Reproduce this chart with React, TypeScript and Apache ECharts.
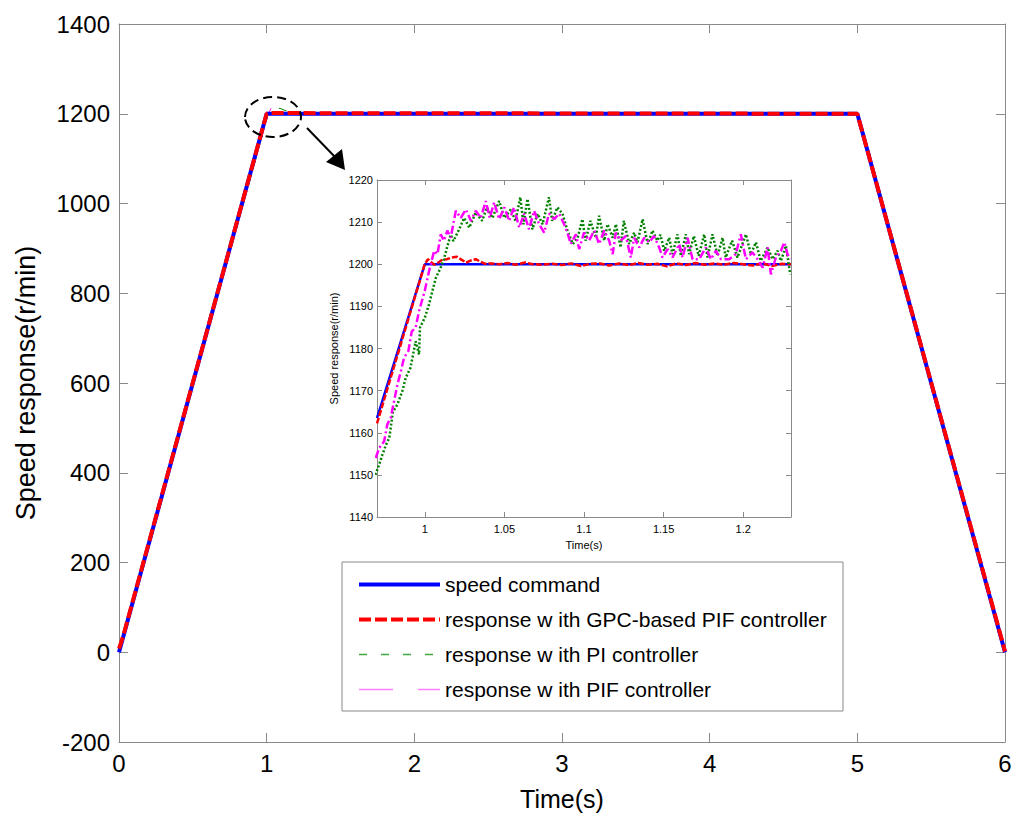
import React, { useEffect, useRef } from "react";
import * as echarts from "echarts";

const FONT = "'Liberation Sans', Arial, Helvetica, sans-serif";
const AXIS_GRAY = "#8a8a8a";

const legendNames = [
  "speed command",
  "response w ith GPC-based PIF controller",
  "response w ith PI controller",
  "response w ith PIF controller",
];

// main plot: time (s) vs speed (r/min)
const mainCommand = [[0, 0], [1, 1200], [5, 1200], [6, 0]];
const mainGpc = [[0, 8], [0.03, 38], [1, 1200], [1.02, 1201.5], [5, 1200], [6, 2]];
const mainPI = [[0, 0], [1.01, 1199], [1.04, 1212], [1.09, 1212], [1.15, 1204], [1.3, 1201], [5, 1200], [5.05, 1152], [6, 0]];
const mainPIF = [[0, 0], [1.005, 1197], [1.03, 1212], [1.085, 1211], [1.15, 1203], [1.3, 1201], [5, 1200], [5.05, 1150], [6, 0]];

// inset zoom
const insetXRange = [0.97, 1.23];
const insetYRange = [1140, 1220];
const insetXTicks = [1, 1.05, 1.1, 1.15, 1.2];

const insetCommand = [[0.97, 1163.5], [1.0, 1200], [1.23, 1200]];
const insetGpc = [
  [0.97, 1162.2], [1.0, 1200], [1.002, 1201.2], [1.004, 1200.5], [1.006, 1199.9], [1.008, 1200.3],
  [1.011, 1201.1], [1.014, 1201.2], [1.017, 1201.6], [1.02, 1201.8], [1.023, 1201.1], [1.026, 1200.4],
  [1.029, 1200.9], [1.032, 1201.2], [1.035, 1200.6], [1.038, 1200.1], [1.042, 1200.2], [1.047, 1200],
  [1.052, 1200.3], [1.057, 1199.9], [1.063, 1200.4], [1.068, 1200], [1.074, 1199.9], [1.08, 1200.1],
  [1.086, 1199.8], [1.092, 1200.2], [1.098, 1199.6], [1.104, 1200.1], [1.11, 1200.2], [1.116, 1199.7],
  [1.122, 1200.2], [1.128, 1199.8], [1.134, 1200.3], [1.14, 1199.9], [1.146, 1200.1], [1.152, 1199.5],
  [1.158, 1200.2], [1.164, 1199.8], [1.17, 1200.3], [1.176, 1199.9], [1.182, 1200.2], [1.188, 1199.9],
  [1.194, 1200.3], [1.2, 1200], [1.206, 1199.7], [1.212, 1200.2], [1.218, 1199.6], [1.224, 1200.1], [1.23, 1200],
];
const insetPI = [
  [0.969, 1150], [0.9713, 1152.4], [0.9734, 1154.8], [0.9755, 1157], [0.9776, 1158.7], [0.978, 1159.5],
  [0.98, 1165], [0.9828, 1166.7], [0.986, 1170], [0.988, 1173], [0.991, 1175.4], [0.9943, 1181.7],
  [0.9964, 1178.6], [0.997, 1185], [1.0, 1187.3], [1.0027, 1190.5], [1.0048, 1193.7], [1.007, 1196.8],
  [1.01, 1199.2], [1.012, 1201.2], [1.014, 1204], [1.0163, 1207], [1.018, 1205.5], [1.0216, 1208.3],
  [1.0247, 1211], [1.028, 1208.7], [1.032, 1212.3], [1.036, 1210.3], [1.039, 1213.5], [1.0425, 1211],
  [1.0467, 1215], [1.05, 1211], [1.054, 1213], [1.057, 1210.3], [1.06, 1215.9], [1.062, 1209.5],
  [1.0645, 1215.5], [1.0676, 1208.3], [1.0708, 1212], [1.074, 1209.5], [1.078, 1215.9], [1.08, 1210.3],
  [1.0833, 1213.5], [1.0865, 1212], [1.0896, 1208], [1.093, 1204.8], [1.096, 1206.3], [1.099, 1210.7],
  [1.101, 1205.6], [1.104, 1210.3], [1.1074, 1206.3], [1.1095, 1211.5], [1.1127, 1205.6], [1.1148, 1209.5],
  [1.118, 1206.3], [1.12, 1209.5], [1.123, 1204], [1.125, 1210.3], [1.1284, 1204.8], [1.1315, 1207.5],
  [1.1336, 1205.2], [1.1368, 1210.7], [1.14, 1204.8], [1.143, 1208], [1.146, 1205.6], [1.148, 1207],
  [1.1504, 1203.2], [1.1535, 1206.3], [1.1556, 1202.4], [1.1587, 1207.1], [1.1608, 1202], [1.164, 1207.1],
  [1.166, 1202.4], [1.169, 1206.7], [1.172, 1202], [1.1755, 1207.1], [1.1776, 1201.6], [1.1807, 1207.1],
  [1.1839, 1202], [1.187, 1206.3], [1.189, 1201.6], [1.193, 1205.6], [1.1964, 1201.6], [1.2017, 1207.1],
  [1.2048, 1202.4], [1.208, 1205.2], [1.211, 1200.8], [1.2153, 1204], [1.2184, 1201.2], [1.2216, 1203.2],
  [1.2237, 1200.8], [1.2268, 1204.4], [1.2295, 1197.6],
];
const insetPIF = [
  [0.9692, 1154], [0.9713, 1156.3], [0.9745, 1158], [0.9765, 1162], [0.9786, 1163.5], [0.9807, 1167.5],
  [0.9828, 1171.4], [0.985, 1174.6], [0.987, 1177.8], [0.9897, 1179.4], [0.9918, 1184], [0.9943, 1185],
  [0.9964, 1188.9], [1.0, 1193.7], [1.0027, 1198.4], [1.0059, 1203.2], [1.008, 1202.4], [1.01, 1207.1],
  [1.012, 1205.6], [1.0142, 1208], [1.0163, 1206.3], [1.0195, 1212.7], [1.0226, 1211], [1.0258, 1213],
  [1.029, 1210.3], [1.032, 1212.7], [1.0352, 1211], [1.0383, 1215], [1.0408, 1211], [1.0436, 1214.7],
  [1.0467, 1210.7], [1.05, 1213.5], [1.053, 1210.3], [1.056, 1213.5], [1.0593, 1208.7], [1.0624, 1212],
  [1.0655, 1208.3], [1.0687, 1212.7], [1.0718, 1209.5], [1.075, 1207.5], [1.078, 1212], [1.0813, 1210.7],
  [1.0844, 1212], [1.0875, 1209.5], [1.0896, 1207.5], [1.0917, 1204.8], [1.0949, 1207.1], [1.097, 1203.6],
  [1.1, 1207.5], [1.1032, 1205.6], [1.1064, 1208], [1.1095, 1204.8], [1.1127, 1208], [1.1158, 1205.6],
  [1.118, 1202.4], [1.12, 1207.5], [1.123, 1205.6], [1.1263, 1206.7], [1.1294, 1201.6], [1.1315, 1206.3],
  [1.1347, 1204], [1.1378, 1206.3], [1.141, 1205.2], [1.144, 1206.7], [1.1472, 1204], [1.1493, 1201.6],
  [1.1525, 1203.6], [1.1556, 1201.6], [1.1598, 1204.8], [1.1619, 1201.6], [1.165, 1206.3], [1.1682, 1201.2],
  [1.1724, 1201.2], [1.1765, 1204], [1.1797, 1201.2], [1.1828, 1203.2], [1.186, 1201.2], [1.1912, 1201.2],
  [1.1953, 1202.4], [1.1985, 1207.1], [1.2017, 1201.2], [1.2058, 1202.8], [1.209, 1201.2], [1.2122, 1199.2],
  [1.2153, 1204], [1.2174, 1197.6], [1.2205, 1201.6], [1.2237, 1203.2], [1.2258, 1205.2], [1.2278, 1202.4],
  [1.2295, 1201.2],
];

const BLUE = "#0000ff";
const RED = "#ff0000";
const GREEN = "#008000";
const MAGENTA = "#ff00ff";

const plain = (v: number) => String(v);

function boxAxis(extra: any) {
  return {
    type: "value",
    axisLine: { show: true, onZero: false, lineStyle: { color: AXIS_GRAY, width: 1 } },
    splitLine: { show: false },
    ...extra,
  };
}

export default function App() {
  const ref = useRef<HTMLDivElement>(null);
  useEffect(() => {
    if (!ref.current) return;
    const chart = echarts.init(ref.current, undefined, { renderer: "svg" });
    const mainTick = { inside: true, length: 9, lineStyle: { color: AXIS_GRAY } };
    const insetTick = { inside: true, length: 5, lineStyle: { color: AXIS_GRAY }, customValues: insetXTicks };
    const insetYTick = { inside: true, length: 5, lineStyle: { color: AXIS_GRAY } };
    const hiddenSymbol = { opacity: 0, color: "transparent", borderWidth: 0 };
    const option: any = {
      animation: false,
      backgroundColor: "#ffffff",
      textStyle: { fontFamily: FONT },
      grid: [
        { left: 119, top: 24, right: 19, bottom: 85 },
        { left: 377, top: 180, width: 414, height: 337, show: true, backgroundColor: "#ffffff", borderWidth: 0 },
      ],
      xAxis: [
        boxAxis({
          gridIndex: 0, min: 0, max: 6, interval: 1, position: "bottom",
          axisTick: mainTick,
          axisLabel: { color: "#000", fontSize: 24, margin: 9, fontFamily: FONT, formatter: plain },
          name: "Time(s)", nameLocation: "middle", nameGap: 44,
          nameTextStyle: { color: "#000", fontSize: 25, fontFamily: FONT },
        }),
        boxAxis({
          gridIndex: 0, min: 0, max: 6, interval: 1, position: "top",
          axisTick: mainTick, axisLabel: { show: false },
        }),
        boxAxis({
          gridIndex: 1, min: insetXRange[0], max: insetXRange[1], position: "bottom",
          axisTick: insetTick,
          axisLabel: { color: "#000", fontSize: 11, margin: 6, fontFamily: FONT, customValues: insetXTicks, formatter: plain },
          name: "Time(s)", nameLocation: "middle", nameGap: 22,
          nameTextStyle: { color: "#000", fontSize: 11, fontFamily: FONT },
        }),
        boxAxis({
          gridIndex: 1, min: insetXRange[0], max: insetXRange[1], position: "top",
          axisTick: insetTick, axisLabel: { show: false },
        }),
      ],
      yAxis: [
        boxAxis({
          gridIndex: 0, min: -200, max: 1400, interval: 200, position: "left",
          axisTick: mainTick,
          axisLabel: { color: "#000", fontSize: 24, margin: 9, fontFamily: FONT, formatter: plain },
          name: "Speed response(r/min)", nameLocation: "middle", nameGap: 80,
          nameTextStyle: { color: "#000", fontSize: 27, fontFamily: FONT },
        }),
        boxAxis({
          gridIndex: 0, min: -200, max: 1400, interval: 200, position: "right",
          axisTick: mainTick, axisLabel: { show: false },
        }),
        boxAxis({
          gridIndex: 1, min: insetYRange[0], max: insetYRange[1], interval: 10, position: "left",
          axisTick: insetYTick,
          axisLabel: { color: "#000", fontSize: 11, margin: 4, fontFamily: FONT, formatter: plain },
          name: "Speed response(r/min)", nameLocation: "middle", nameGap: 38,
          nameTextStyle: { color: "#000", fontSize: 11, fontFamily: FONT },
        }),
        boxAxis({
          gridIndex: 1, min: insetYRange[0], max: insetYRange[1], interval: 10, position: "right",
          axisTick: insetYTick, axisLabel: { show: false },
        }),
      ],
      legend: {
        orient: "vertical",
        left: 357,
        top: 574,
        padding: 0,
        itemWidth: 81,
        itemHeight: 20,
        itemGap: 14,
        itemTextGap: 9,
        selectedMode: false,
        itemStyle: hiddenSymbol,
        textStyle: { color: "#000", fontSize: 21, fontFamily: FONT, lineHeight: 20 },
        data: [
          { name: legendNames[0], itemStyle: hiddenSymbol, lineStyle: { color: BLUE, width: 4, type: "solid" } },
          { name: legendNames[1], itemStyle: hiddenSymbol, lineStyle: { color: RED, width: 4, type: [12, 4] } },
          { name: legendNames[2], itemStyle: hiddenSymbol, lineStyle: { color: "#40a840", width: 1.5, type: [8, 14] } },
          { name: legendNames[3], itemStyle: hiddenSymbol, lineStyle: { color: "#ff7fff", width: 1.5, type: [34, 25] } },
        ],
      },
      graphic: [
        {
          type: "rect", z: 0,
          shape: { x: 342, y: 562, width: 501, height: 149 },
          style: { fill: "#ffffff", stroke: "#888888", lineWidth: 1 },
        },
        {
          type: "ellipse", z: 10,
          shape: { cx: 273, cy: 117, rx: 28, ry: 20 },
          style: { fill: "transparent", stroke: "#000", lineWidth: 2, lineDash: [9, 5] },
        },
        {
          type: "line", z: 10,
          shape: { x1: 307, y1: 128, x2: 335, y2: 157 },
          style: { stroke: "#000", lineWidth: 2 },
        },
        {
          type: "polygon", z: 10,
          shape: { points: [[345, 170], [326, 162], [342, 149]] },
          style: { fill: "#000" },
        },
      ],
      series: [
        {
          name: legendNames[2], type: "line", xAxisIndex: 0, yAxisIndex: 0, z: 1,
          data: mainPI, symbol: "none", lineStyle: { color: GREEN, width: 1, type: [8, 14] }, itemStyle: { color: GREEN },
        },
        {
          name: legendNames[3], type: "line", xAxisIndex: 0, yAxisIndex: 0, z: 1,
          data: mainPIF, symbol: "none", lineStyle: { color: MAGENTA, width: 1, type: [34, 25] }, itemStyle: { color: MAGENTA },
        },
        {
          name: legendNames[0], type: "line", xAxisIndex: 0, yAxisIndex: 0, z: 2,
          data: mainCommand, symbol: "none", lineStyle: { color: BLUE, width: 4 }, itemStyle: { color: BLUE },
        },
        {
          name: legendNames[1], type: "line", xAxisIndex: 0, yAxisIndex: 0, z: 3,
          data: mainGpc, symbol: "none", lineStyle: { color: RED, width: 4, type: [12, 4] }, itemStyle: { color: RED },
        },
        {
          name: "inset speed command", type: "line", xAxisIndex: 2, yAxisIndex: 2, z: 5,
          data: insetCommand, symbol: "none", lineStyle: { color: BLUE, width: 2.5 },
        },
        {
          name: "inset GPC-based PIF", type: "line", xAxisIndex: 2, yAxisIndex: 2, z: 6,
          data: insetGpc, symbol: "none", lineStyle: { color: RED, width: 2.5, type: [6, 2] },
        },
        {
          name: "inset PI", type: "line", xAxisIndex: 2, yAxisIndex: 2, z: 7,
          data: insetPI, symbol: "none", lineStyle: { color: GREEN, width: 2.5, type: [2, 2] },
        },
        {
          name: "inset PIF", type: "line", xAxisIndex: 2, yAxisIndex: 2, z: 8,
          data: insetPIF, symbol: "none", lineStyle: { color: MAGENTA, width: 2.5, type: [8, 3, 2, 3] },
        },
      ],
    };
    chart.setOption(option);
    return () => chart.dispose();
  }, []);
  return (
    <div
      ref={ref}
      style={{ position: "fixed", left: 0, top: 0, width: 1024, height: 827, background: "#fff" }}
    />
  );
}
